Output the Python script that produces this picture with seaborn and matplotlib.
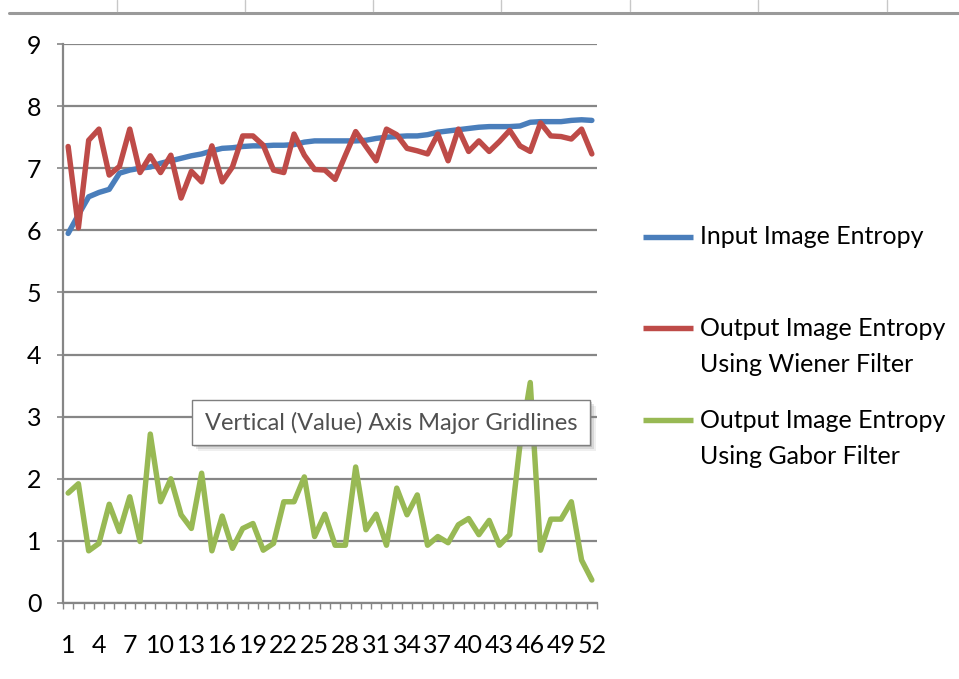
import numpy as np
import pandas as pd
import matplotlib.pyplot as plt
import seaborn as sns
from matplotlib.lines import Line2D
from matplotlib.patches import Rectangle

# Style
sns.set_style('white')
plt.rcParams['font.family'] = ['Lato', 'DejaVu Sans']

# Data
image_ids = list(range(1, 53))
input_entropy = [5.95, 6.25, 6.54, 6.61, 6.66, 6.92, 6.97, 7.00, 7.02, 7.08,
                 7.12, 7.16, 7.20, 7.23, 7.28, 7.32, 7.33, 7.35, 7.36, 7.36,
                 7.37, 7.37, 7.38, 7.42, 7.44, 7.44, 7.44, 7.44, 7.44, 7.45,
                 7.48, 7.50, 7.51, 7.52, 7.52, 7.54, 7.58, 7.60, 7.62, 7.64,
                 7.66, 7.67, 7.67, 7.67, 7.68, 7.74, 7.75, 7.75, 7.75, 7.77,
                 7.78, 7.77]
wiener_entropy = [7.35, 6.04, 7.45, 7.63, 6.89, 7.03, 7.63, 6.93, 7.20, 6.93,
                  7.21, 6.52, 6.95, 6.78, 7.36, 6.78, 7.02, 7.52, 7.52, 7.37,
                  6.97, 6.93, 7.55, 7.21, 6.98, 6.97, 6.82, 7.21, 7.59, 7.35,
                  7.12, 7.63, 7.54, 7.32, 7.28, 7.23, 7.55, 7.12, 7.63, 7.27,
                  7.44, 7.27, 7.43, 7.61, 7.36, 7.27, 7.73, 7.52, 7.51, 7.47,
                  7.63, 7.23]
gabor_entropy = [1.77, 1.92, 0.84, 0.96, 1.59, 1.15, 1.71, 0.99, 2.72, 1.63,
                 2.00, 1.42, 1.20, 2.09, 0.84, 1.40, 0.88, 1.20, 1.28, 0.85,
                 0.96, 1.63, 1.63, 2.03, 1.07, 1.43, 0.93, 0.93, 2.19, 1.18,
                 1.43, 0.93, 1.85, 1.42, 1.74, 0.93, 1.07, 0.97, 1.26, 1.36,
                 1.10, 1.33, 0.93, 1.10, 2.55, 3.55, 0.85, 1.35, 1.35, 1.63,
                 0.69, 0.37]
series_names = ['Input Image Entropy',
                'Output Image Entropy\nUsing Wiener Filter',
                'Output Image Entropy\nUsing Gabor Filter']
series_colors = ['#4A7EBB', '#BE4B48', '#98B954']
y_ticks = list(range(0, 10))
x_tick_labels = list(range(1, 53, 3))
tooltip_text = 'Vertical (Value) Axis Major Gridlines'

# Long format table for seaborn
df = pd.concat([
    pd.DataFrame({'image': image_ids, 'entropy': vals, 'series': name})
    for name, vals in zip(series_names, [input_entropy, wiener_entropy, gabor_entropy])
])

W, H = 959, 679
fig = plt.figure(figsize=(W / 100, H / 100), dpi=100)
ax = fig.add_axes([63 / W, 1 - 603 / H, (597 - 63) / W, (603 - 44) / H])

sns.lineplot(data=df, x='image', y='entropy', hue='series',
             palette=dict(zip(series_names, series_colors)),
             linewidth=3.9, legend=False, ax=ax,
             solid_joinstyle='round', solid_capstyle='round')

grid_color = '#868686'
ax.set_xlim(0.5, 52.5)
ax.set_ylim(0, 9)
ax.set_yticks(y_ticks)
ax.set_xticks(x_tick_labels)
ax.set_xticks(np.arange(0.5, 53, 1), minor=True)
ax.set_xlabel('')
ax.set_ylabel('')
ax.yaxis.grid(True, color=grid_color, linewidth=1.6)
ax.xaxis.grid(False)
ax.set_axisbelow(True)
for side in ['top', 'right']:
    ax.spines[side].set_visible(False)
for side in ['left', 'bottom']:
    ax.spines[side].set_color(grid_color)
    ax.spines[side].set_linewidth(1.6)
ax.tick_params(axis='y', which='major', length=4.5, width=1.2, color=grid_color,
               direction='out', pad=11, labelsize=18, labelcolor='black', left=True)
ax.tick_params(axis='x', which='major', length=0, pad=22, labelsize=18,
               labelcolor='black')
ax.tick_params(axis='x', which='minor', length=4.5, width=1.0, color=grid_color,
               direction='out', bottom=True)

# Legend drawn on the right, handle aligned with first text line
legend_y = [237, 328, 420]
line_step = 36
for name, color, y in zip(series_names, series_colors, legend_y):
    fig.add_artist(Line2D([643 / W, 693 / W], [1 - y / H, 1 - y / H],
                          color=color, linewidth=3.9, solid_capstyle='butt'))
    for k, part in enumerate(name.split('\n')):
        fig.text(700 / W, 1 - (y + k * line_step) / H, part, fontsize=18,
                 color='black', ha='left', va='center')

# Tooltip box with shadow
for off, alpha in [(6, 0.12), (4, 0.2), (2, 0.3)]:
    fig.add_artist(Rectangle(((192 + off) / W, 1 - (445 + off) / H),
                             398 / W, 45 / H, transform=fig.transFigure,
                             facecolor='#808080', edgecolor='none', alpha=alpha))
fig.add_artist(Rectangle((192 / W, 1 - 445 / H), 398 / W, 45 / H,
                         transform=fig.transFigure, facecolor='white',
                         edgecolor='#7f7f7f', linewidth=1.0))
fig.text(205 / W, 1 - 423 / H, tooltip_text, fontsize=17, color='#505050',
         ha='left', va='center')

# Spreadsheet frame at the top
fig.add_artist(Line2D([9 / W, 1], [1 - 13 / H, 1 - 13 / H], color='#9a9a9a',
                      linewidth=2.2))
for xc in [117, 245, 373, 501, 630, 758, 887]:
    fig.add_artist(Line2D([xc / W, xc / W], [1, 1 - 11 / H], color='#c8c8c8',
                          linewidth=1.0))

fig.savefig('out.png', dpi=100)
